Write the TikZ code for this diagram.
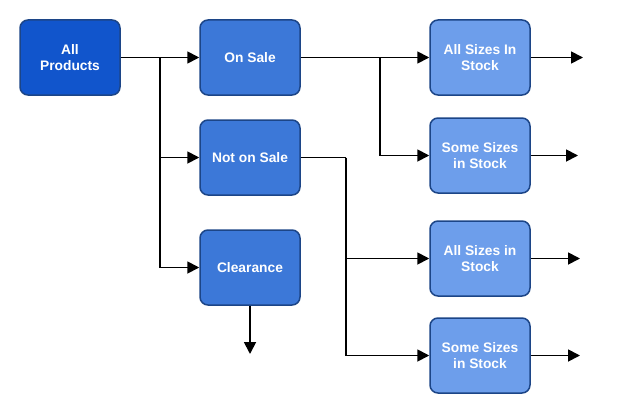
\documentclass[tikz,border=0pt]{standalone}
\usepackage{fontspec}
\setmainfont{Liberation Sans}
\usetikzlibrary{arrows.meta}
\definecolor{topblue}{HTML}{1155CC}
\definecolor{midblue}{HTML}{3C78D8}
\definecolor{lightblue}{HTML}{6D9EEB}
\definecolor{edgeblue}{HTML}{1C4587}
\begin{document}
\begin{tikzpicture}[x=1pt, y=-1pt,
		box/.style={draw=edgeblue, line width=1.5pt, rounded corners=8pt,
			minimum width=100pt, minimum height=75pt, align=center,
			text=white, font=\fontsize{13.8}{15.5}\selectfont\bfseries},
		line/.style={line width=1.8pt},
		arr/.style={line width=1.8pt, -{Triangle[length=12pt,width=12pt]}}]
	\useasboundingbox (0,0) rectangle (634,412);
	% --- Livello 1 ---
	\node[box, fill=topblue] (allprod) at (70,57.5) {All\\Products};
	% --- Livello 2 ---
	\node[box, fill=midblue] (onsale) at (250,57.5) {On Sale};
	\node[box, fill=midblue] (notsale) at (250,157.5) {Not on Sale};
	\node[box, fill=midblue] (clear) at (250,267.5) {Clearance};
	% --- Livello 3 ---
	\node[box, fill=lightblue] (allA) at (480,57.5) {All Sizes In\\Stock};
	\node[box, fill=lightblue] (someA) at (480,155.5) {Some Sizes\\in Stock};
	\node[box, fill=lightblue] (allB) at (480,258.5) {All Sizes in\\Stock};
	\node[box, fill=lightblue] (someB) at (480,355.5) {Some Sizes\\in Stock};
	
	% --- Punti di diramazione ---
	\coordinate (j1) at (160,57.5);
	\coordinate (j2) at (380,57.5);
	\coordinate (j3) at (346,157.5);
	% Estremi liberi
	\coordinate (outA) at (583,57.5);
	\coordinate (outB) at (578,155.5);
	\coordinate (outC) at (580,258.5);
	\coordinate (outD) at (580,355.5);
	\coordinate (outE) at (250,354);
	
	% --- Connettori ---
	\draw[line] (allprod.east) -- (j1);
	\draw[arr] (j1) -- (onsale.west);
	\draw[arr] (j1) |- (notsale.west);
	\draw[arr] (j1) |- (clear.west);
	
	\draw[line] (onsale.east) -- (j2);
	\draw[arr] (j2) -- (allA.west);
	\draw[arr] (j2) |- (someA.west);
	
	\draw[line] (notsale.east) -- (j3);
	\draw[arr] (j3) |- (allB.west);
	\draw[arr] (j3) |- (someB.west);
	
	\draw[arr] (clear.south) -- (outE);
	\draw[arr] (allA.east) -- (outA);
	\draw[arr] (someA.east) -- (outB);
	\draw[arr] (allB.east) -- (outC);
	\draw[arr] (someB.east) -- (outD);
\end{tikzpicture}
\end{document}
